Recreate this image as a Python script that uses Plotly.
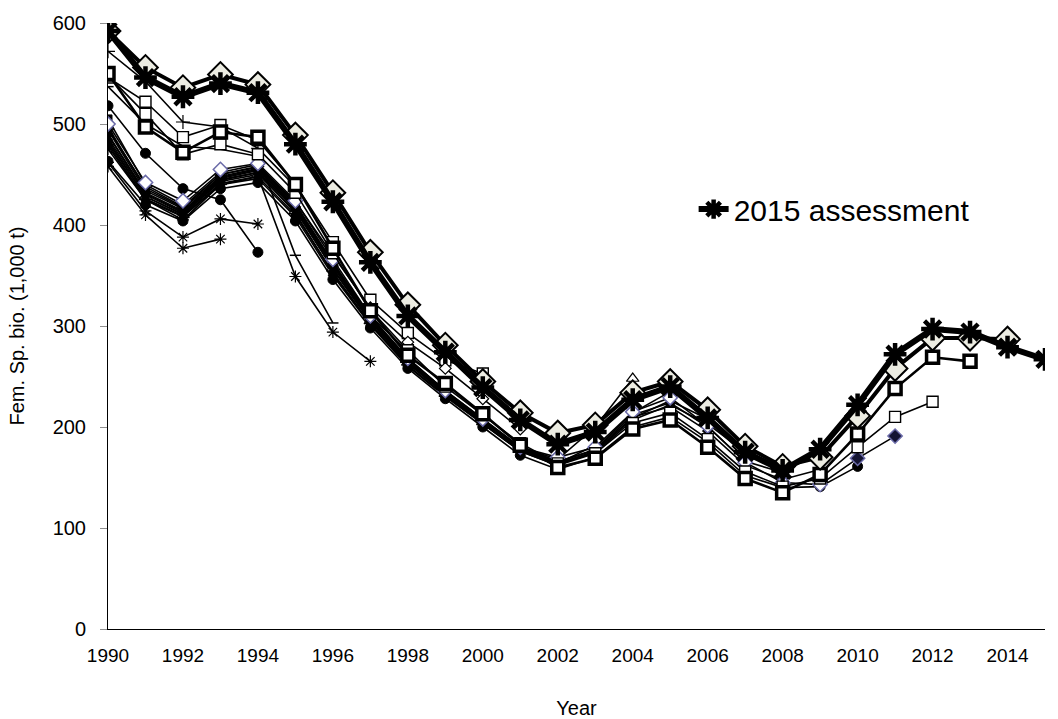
import plotly.graph_objects as go

# Retrospective female spawning biomass (1,000 t) by assessment; each series starts in 1990
start_year = 1990

ssb_1993 = [458, 410, 377, 386]
ssb_1994a = [462, 414, 388, 406, 401]
ssb_1994b = [518, 471, 436, 425, 373]
ssb_1995 = [572, 542, 502, 497, 476, 438]
ssb_1996 = [537, 500, 478, 475, 468, 370, 303]
ssb_1997 = [475, 425, 405, 440, 448, 349, 294, 265]
ssb_1998 = [505, 440, 420, 452, 460, 420, 362, 310, 275]
ssb_1999 = [484, 428, 411, 444, 452, 412, 352, 302, 262, 238]
ssb_2000 = [546, 522, 487, 499, 484, 440, 383, 326, 293, 266, 253]
ssb_2001 = [495, 438, 418, 450, 458, 423, 370, 318, 284, 258, 228, 198]
ssb_2002 = [478, 425, 408, 440, 446, 408, 350, 301, 260, 230, 203, 176, 162]
ssb_2003 = [490, 432, 414, 447, 455, 418, 360, 307, 266, 233, 206, 178, 164, 182]
ssb_2004 = [482, 428, 410, 443, 450, 414, 357, 305, 264, 233, 205, 180, 168, 200, 248]
ssb_2005 = [494, 434, 416, 448, 456, 419, 361, 308, 267, 235, 207, 179, 165, 178, 214, 235]
ssb_2006 = [486, 430, 412, 445, 452, 416, 356, 304, 263, 232, 204, 177, 163, 175, 209, 226, 208]
ssb_2007 = [480, 426, 409, 441, 448, 410, 353, 302, 261, 231, 203, 176, 162, 174, 207, 222, 203, 175]
ssb_2008 = [497, 436, 417, 450, 457, 421, 363, 309, 268, 236, 208, 180, 166, 177, 212, 224, 200, 166, 155]
ssb_2009 = [489, 431, 413, 446, 454, 417, 359, 306, 265, 234, 206, 178, 164, 176, 210, 220, 196, 162, 148, 158]
ssb_2010 = [463, 420, 404, 436, 442, 404, 346, 298, 258, 228, 200, 172, 158, 170, 200, 210, 185, 152, 140, 141, 161]
ssb_2011 = [500, 442, 424, 455, 461, 424, 366, 310, 268, 236, 208, 180, 170, 180, 215, 229, 201, 165, 145, 143, 169, 191]
ssb_2012 = [548, 510, 470, 480, 470, 432, 372, 316, 276, 240, 212, 184, 164, 174, 204, 214, 188, 156, 141, 149, 180, 210, 225]
ssb_2013 = [550, 497, 472, 492, 487, 440, 377, 315, 271, 243, 213, 182, 160, 169, 198, 207, 180, 149, 135, 153, 193, 238, 269, 265]
ssb_2014 = [592, 556, 536, 549, 539, 489, 432, 373, 321, 281, 245, 214, 194, 202, 234, 245, 217, 181, 161, 170, 211, 258, 288, 288, 287]
ssb_2015 = [592, 546, 527, 540, 531, 480, 423, 363, 310, 274, 239, 207, 183, 195, 227, 240, 209, 175, 157, 178, 222, 272, 297, 294, 279, 267]

x_ticks = list(range(1990, 2016, 2))
y_ticks = [0, 100, 200, 300, 400, 500, 600]

BLACK = "#000000"


def years_for(values):
    return list(range(start_year, start_year + len(values)))


fig = go.Figure()


def add_series(values, symbol, size, fill=BLACK, edge=BLACK, edge_w=1.0, width=1.6, name=None, legend=False):
    fig.add_trace(go.Scatter(
        x=years_for(values), y=values, mode="lines+markers",
        name=name or "", showlegend=legend,
        line=dict(color=BLACK, width=width),
        marker=dict(symbol=symbol, size=size, color=fill,
                    line=dict(color=edge, width=edge_w)),
    ))


# older assessments, thin lines
add_series(ssb_1993, "asterisk-open", 10, edge_w=1.2)
add_series(ssb_1994a, "asterisk-open", 10, edge_w=1.2)
add_series(ssb_1994b, "circle", 10)
add_series(ssb_1995, "cross-thin-open", 10, edge_w=1.2)
add_series(ssb_1996, "line-ew-open", 8, edge_w=1.5)
add_series(ssb_1997, "asterisk-open", 10, edge_w=1.2)
add_series(ssb_1998, "square", 8)
add_series(ssb_1999, "triangle-up", 8)
add_series(ssb_2000, "square", 11, fill="white", edge_w=1.4)
add_series(ssb_2001, "diamond", 9, fill="white", edge_w=1.2)
add_series(ssb_2002, "circle", 8)
add_series(ssb_2003, "diamond", 8)
add_series(ssb_2004, "triangle-up", 11, fill="white", edge_w=1.2)
add_series(ssb_2005, "square", 8)
add_series(ssb_2006, "triangle-up", 8)
add_series(ssb_2007, "circle", 8)
add_series(ssb_2008, "square", 8)
add_series(ssb_2009, "diamond", 8)
add_series(ssb_2010, "circle", 10)

# 2011 assessment: open diamonds with a blue-grey edge, dark-filled in recent years
yrs_2011 = years_for(ssb_2011)
fig.add_trace(go.Scatter(
    x=yrs_2011, y=ssb_2011, mode="lines+markers", showlegend=False,
    line=dict(color=BLACK, width=1.6),
    marker=dict(symbol="diamond", size=11,
                color=["#141432" if yr >= 2010 else "white" for yr in yrs_2011],
                line=dict(color="#6a6aa8", width=1.5)),
))

add_series(ssb_2012, "square", 11, fill="white", edge_w=1.4, width=1.6)
add_series(ssb_2013, "square", 12, fill="white", edge_w=3.5, width=2.6)
add_series(ssb_2014, "diamond", 19, fill="#ECECE2", edge_w=2, width=4)
add_series(ssb_2015, "asterisk-open", 19, edge_w=4.5, width=6,
           name="2015 assessment", legend=True)

fig.update_layout(
    width=1058, height=719,
    margin=dict(l=108, r=13, t=23, b=90),
    paper_bgcolor="white", plot_bgcolor="white",
    font=dict(family="Liberation Sans, Arial, sans-serif", color=BLACK, size=20),
    showlegend=True,
    legend=dict(x=0.625, y=0.693, xanchor="left", yanchor="middle",
                bgcolor="rgba(0,0,0,0)", font=dict(size=30),
                itemwidth=30),
    xaxis=dict(
        range=[1990, 2015], tickvals=x_ticks, showgrid=False, zeroline=False,
        showline=True, linecolor=BLACK, linewidth=1, ticks="",
        automargin=False,
        ticklabelstandoff=9, tickfont=dict(size=19),
        title=dict(text="Year", font=dict(size=20), standoff=42),
    ),
    yaxis=dict(
        range=[0, 600], tickvals=y_ticks, showgrid=False, zeroline=False,
        showline=True, linecolor=BLACK, linewidth=1,
        ticks="outside", ticklen=7, tickcolor="#909090",
        automargin=False,
        ticklabelstandoff=10, tickfont=dict(size=20),
        title=dict(text="Fem. Sp. bio. (1,000 t)", font=dict(size=20), standoff=22),
    ),
)

fig.write_html("out.html")
